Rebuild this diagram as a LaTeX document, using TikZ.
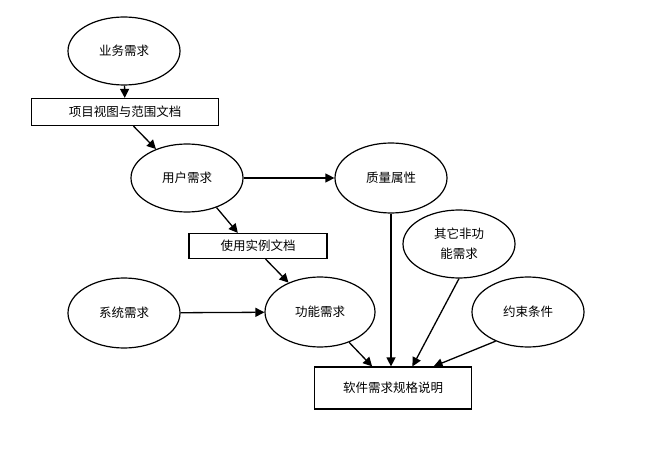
\documentclass[tikz,border=0pt]{standalone}
\usepackage{fontspec}
\setmainfont{Noto Sans CJK SC}
\usetikzlibrary{shapes.geometric,arrows.meta}
\tikzset{
  need/.style={draw,ellipse,line width=1.2pt,minimum width=112pt,minimum height=68pt,inner sep=0pt,font=\fontsize{12.5}{20}\selectfont},
  doc/.style={draw,rectangle,line width=1.2pt,inner sep=0pt,font=\fontsize{12.5}{15}\selectfont}
}
\begin{document}
\begin{tikzpicture}[x=1pt,y=-1pt]
      \useasboundingbox (0,0) rectangle (669,449);
      \draw
        (124,51) node[need] (biz){业务需求}
        (125,112) node[doc,minimum width=187pt,minimum height=27pt] (vision){项目视图与范围文档}
        (187,178) node[need] (user){用户需求}
        (258,246) node[doc,minimum width=138pt,minimum height=25pt] (usecase){使用实例文档}
        (391,178) node[need,minimum height=70pt] (quality){质量属性}
        (459,244) node[need,align=center] (other){其它非功\\能需求}
        (528,312) node[need,minimum height=70pt] (cons){约束条件}
        (124,313) node[need,minimum height=70pt] (system){系统需求}
        (320,312) node[need,minimum width=110pt,minimum height=70pt] (func){功能需求}
        (393,388) node[doc,minimum width=157pt,minimum height=42pt] (srs){软件需求规格说明};
      \begin{scope}[line width=1.3pt,-{Triangle[width=9pt,length=9pt]}]
        \draw (biz) to (vision);
        \draw (vision.-59) to (user.137);
        \draw (user.-45) to (usecase.147);
        \draw (user) to (quality);
        \draw (usecase.-60) to (func.137);
        \draw (system) to (func);
        \draw (func) to (srs.134);
        \draw (quality) to (quality |- srs.north);
        \draw (other.south) to (srs.48);
        \draw (cons.222) to (srs.28);
      \end{scope}
    \end{tikzpicture}
\end{document}
